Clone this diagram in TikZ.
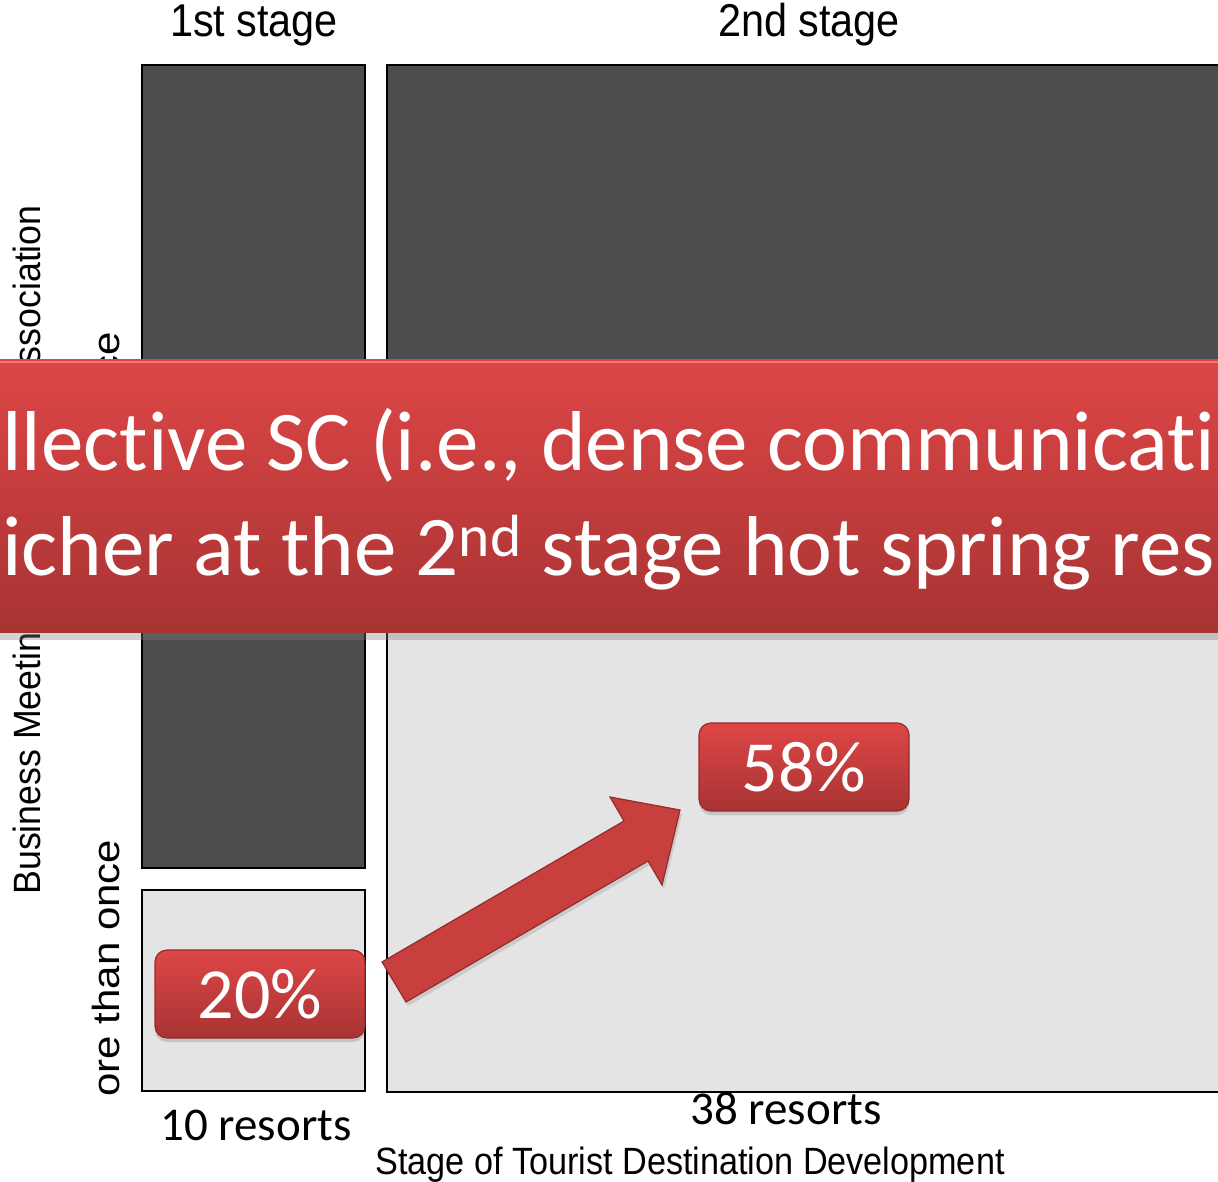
\documentclass[tikz,border=0pt]{standalone}
\usepackage{fontspec}
\setmainfont[Ligatures=NoCommon]{Carlito}
\newfontfamily\chartfont{Liberation Sans}
\usetikzlibrary{shadows}
\definecolor{cellDark}{HTML}{4D4D4D}
\definecolor{cellLight}{HTML}{E4E4E4}
\definecolor{redTop}{HTML}{DE4646}
\definecolor{redBottom}{HTML}{A83333}
\definecolor{redMid}{HTML}{C8403E}
\definecolor{redEdge}{HTML}{962B2B}
\definecolor{redHi}{HTML}{F27A7A}
\begin{document}
\begin{tikzpicture}[x=0.5pt, y=-0.5pt,
    darkcell/.style={draw=black, line width=1pt, fill=cellDark},
    lightcell/.style={draw=black, line width=1pt, fill=cellLight},
    axistext/.style={font=\chartfont\fontsize{19}{22}\selectfont, inner sep=0pt, xscale=0.9, transform shape},
    stagetext/.style={font=\chartfont\fontsize{23}{26}\selectfont, inner sep=0pt, xscale=0.9, transform shape},
    sidetext/.style={font=\chartfont\fontsize{19}{22}\selectfont, inner sep=0pt, rotate=90, xscale=0.94, transform shape},
    cattext/.style={font=\chartfont\fontsize{21}{24}\selectfont, inner sep=0pt, rotate=90, yscale=0.9, transform shape},
    counttext/.style={font=\fontsize{23.5}{28}\selectfont, inner sep=0pt},
    redbox/.style={rounded corners=6pt, draw=redEdge, line width=0.6pt,
        top color=redTop, bottom color=redBottom, text=white,
        font=\fontsize{36}{40}\selectfont, minimum width=105pt, minimum height=44pt,
        drop shadow={opacity=0.3, shadow xshift=0pt, shadow yshift=-2pt}},
    bannertext/.style={font=\fontsize{42.5}{48}\selectfont, text=white, inner sep=0pt, anchor=base west}]
  \useasboundingbox (0,0) rectangle (1218,1181);
  \clip (0,0) rectangle (1218,1181);
  \fill[white] (0,0) rectangle (1218,1181);
  % cells of the mosaic
  \draw[darkcell] (142,65) rectangle (365,868);
  \draw[lightcell] (142,890) rectangle (365,1091);
  \draw[darkcell] (387,65) rectangle (1230,496);
  \draw[lightcell] (387,518) rectangle (1230,1092);
  % labels
  \node[stagetext] (stage1) at (254,25) {1st stage};
  \node[stagetext] (stage2) at (809,25) {2nd stage};
  \node[counttext] (count1) at (256,1125) {10 resorts};
  \node[counttext] (count2) at (786,1109) {38 resorts};
  \node[axistext] (xlabel) at (690,1165) {Stage of Tourist Destination Development};
  \node[sidetext, anchor=base west] (ylabel1) at (40,895) {Business Meeting};
  \node[sidetext, anchor=base east] (ylabel2) at (40,205) {ssociation};
  \node[cattext, anchor=base west] (cat1) at (119,1097) {ore than once};
  \node[cattext, anchor=base east] (cat2) at (119,332) {ce};
  % banner
  \fill[top color=redTop, bottom color=redBottom,
      drop shadow={opacity=0.35, shadow xshift=0pt, shadow yshift=-4pt}]
    (-10,360) rectangle (1230,632);
  \draw[redHi, line width=1.2pt] (-10,362) -- (1230,362);
  \node[bannertext] (line1) at (2,470) {llective SC (i.e., dense communicati};
  \node[bannertext] (line2) at (2,575) {icher at the 2\textsuperscript{nd} stage hot spring res};
  % arrow and boxes
  \fill[fill=redMid, draw=redEdge, line width=0.6pt,
      drop shadow={opacity=0.25, shadow xshift=1pt, shadow yshift=-2pt}]
    (382,962) -- (624,821) -- (610,797) -- (680,810) -- (662,885) -- (648,861) -- (406,1002) -- cycle;
  \node[redbox] (low) at (260,994) {20\%};
  \node[redbox] (high) at (804,767) {58\%};
\end{tikzpicture}
\end{document}
